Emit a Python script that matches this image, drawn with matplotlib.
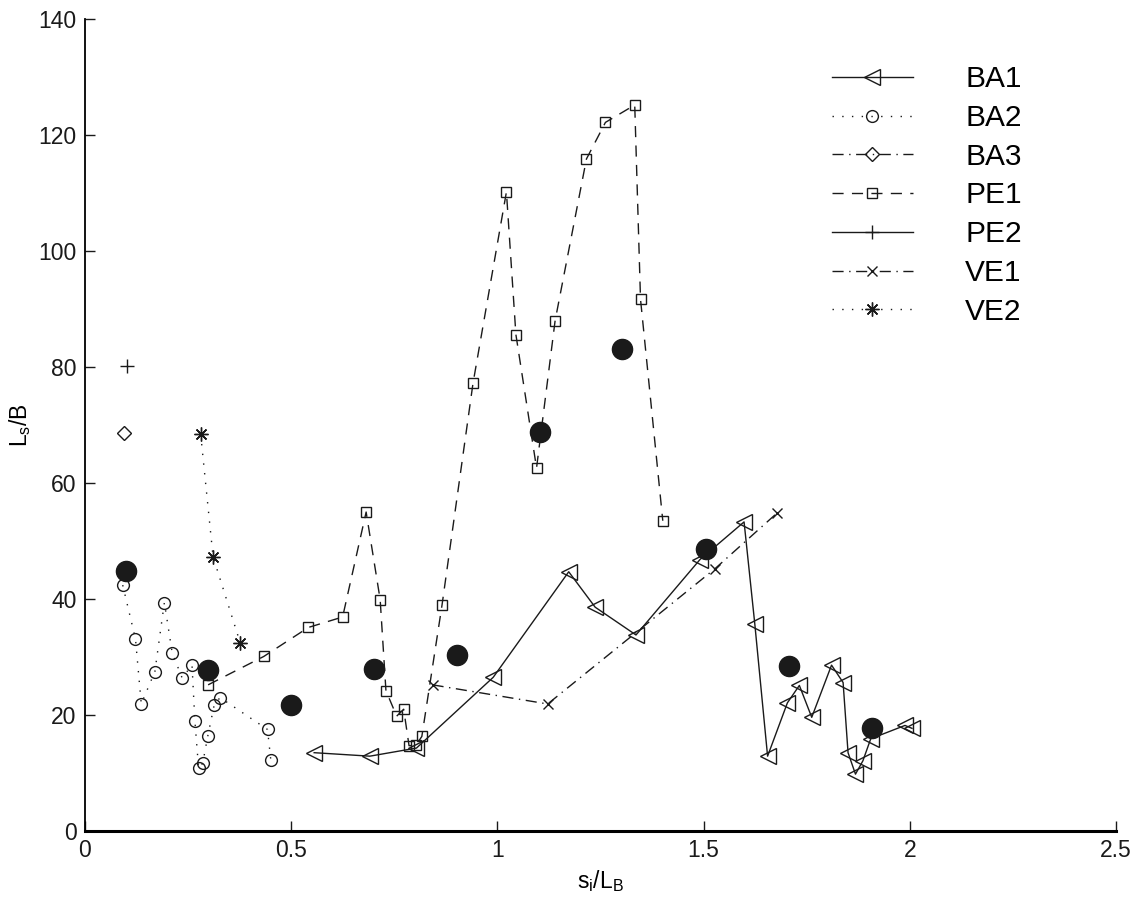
import matplotlib
matplotlib.use("Agg")
import matplotlib.pyplot as plt

plt.rcParams['font.family'] = ['Liberation Sans', 'DejaVu Sans']
plt.rcParams['mathtext.fontset'] = 'custom'
plt.rcParams['mathtext.rm'] = 'Liberation Sans'
plt.rcParams['mathtext.it'] = 'Liberation Sans'

# ---- data ----
ba1_x = [0.556, 0.691, 0.804, 0.990, 1.173, 1.237, 1.336, 1.491, 1.598, 1.624, 1.655,
         1.703, 1.732, 1.762, 1.810, 1.838, 1.850, 1.868, 1.886, 1.905, 1.988, 2.005]
ba1_y = [13.5, 12.9, 14.3, 26.5, 44.7, 38.6, 33.8, 46.8, 53.3, 35.7, 12.9,
         22.1, 25.1, 19.6, 28.6, 25.6, 13.5, 9.8, 12.1, 15.9, 18.2, 17.7]

ba2_x = [0.092, 0.123, 0.137, 0.170, 0.193, 0.212, 0.236, 0.260, 0.267, 0.276, 0.286,
         0.298, 0.314, 0.328, 0.443, 0.451]
ba2_y = [42.4, 33.1, 21.9, 27.5, 39.4, 30.7, 26.4, 28.6, 18.9, 10.8, 11.7,
         16.3, 21.8, 23.0, 17.5, 12.2]

ba3_x = [0.095]
ba3_y = [68.7]

pe1_x = [0.299, 0.434, 0.542, 0.625, 0.682, 0.716, 0.730, 0.756, 0.773, 0.786, 0.803,
         0.817, 0.866, 0.941, 1.022, 1.045, 1.095, 1.140, 1.216, 1.262, 1.333, 1.347, 1.401]
pe1_y = [25.2, 30.1, 35.1, 36.9, 55.0, 39.9, 24.2, 19.8, 21.0, 14.7, 14.8,
         16.3, 39.0, 77.2, 110.2, 85.6, 62.6, 88.0, 115.9, 122.2, 125.2, 91.7, 53.5]

pe2_x = [0.103]
pe2_y = [80.2]

ve1_x = [0.843, 1.122, 1.527, 1.679]
ve1_y = [25.2, 21.9, 45.2, 54.9]

ve2_x = [0.281, 0.311, 0.377]
ve2_y = [68.4, 47.3, 32.4]

mean_x = [0.099, 0.299, 0.500, 0.702, 0.902, 1.103, 1.302, 1.505, 1.706, 1.907]
mean_y = [44.9, 27.8, 21.7, 28.0, 30.4, 68.8, 83.1, 48.6, 28.4, 17.7]

x_ticks = [0, 0.5, 1, 1.5, 2, 2.5]
x_ticklabels = ['0', '0.5', '1', '1.5', '2', '2.5']
y_ticks = [0, 20, 40, 60, 80, 100, 120, 140]

# ---- figure ----
fig = plt.figure(figsize=(11.36, 9.0), dpi=100)
ax = fig.add_axes([0.0746, 0.0767, 0.908, 0.902])

c = '#1a1a1a'
lw = 1.0
dotted = (0, (1, 6))
dashed = (0, (8, 6))
dashdot = (0, (8, 4, 1, 4))

ax.plot(ba1_x, ba1_y, linestyle='-', color=c, lw=lw, marker='<', ms=11.5,
        mfc='none', mec=c, mew=1.0, label='BA1')
ax.plot(ba2_x, ba2_y, linestyle=dotted, color=c, lw=lw, marker='o', ms=8.5,
        mfc='none', mec=c, mew=1.0, label='BA2')
ax.plot(ba3_x, ba3_y, linestyle=dashdot, color=c, lw=lw, marker='D', ms=7,
        mfc='none', mec=c, mew=1.0, label='BA3')
ax.plot(pe1_x, pe1_y, linestyle=dashed, color=c, lw=lw, marker='s', ms=7.5,
        mfc='none', mec=c, mew=1.0, label='PE1')
ax.plot(pe2_x, pe2_y, linestyle='-', color=c, lw=lw, marker='+', ms=10,
        mec=c, mew=1.0, label='PE2')
ax.plot(ve1_x, ve1_y, linestyle=dashdot, color=c, lw=lw, marker='x', ms=7,
        mec=c, mew=1.0, label='VE1')
ax.plot(ve2_x, ve2_y, linestyle=dotted, color=c, lw=lw, marker=(8, 2, 0), ms=10,
        mec=c, mew=1.0, label='VE2')
ax.plot(mean_x, mean_y, linestyle='none', marker='o', ms=14.5, mfc=c, mec=c)

ax.set_xlim(0, 2.5)
ax.set_ylim(0, 140)
ax.set_xticks(x_ticks)
ax.set_xticklabels(x_ticklabels)
ax.set_yticks(y_ticks)

for s in ['top', 'right']:
    ax.spines[s].set_visible(False)
ax.spines['left'].set_linewidth(1.3)
ax.spines['bottom'].set_linewidth(2.2)
ax.tick_params(direction='in', length=7, width=1.0, labelsize=16.5, pad=6, colors=c)

ax.set_xlabel(r'$\mathregular{s_i/L_B}$', fontsize=16.5, labelpad=4)
ax.set_ylabel(r'$\mathregular{L_s/B}$', fontsize=16.5, labelpad=4)

leg = ax.legend(loc='upper left', bbox_to_anchor=(0.713, 0.958), frameon=False,
                fontsize=21.5, handlelength=2.7, handletextpad=1.75, labelspacing=0.36,
                numpoints=1, borderaxespad=0)

fig.savefig('out.png', dpi=100, facecolor='white')
